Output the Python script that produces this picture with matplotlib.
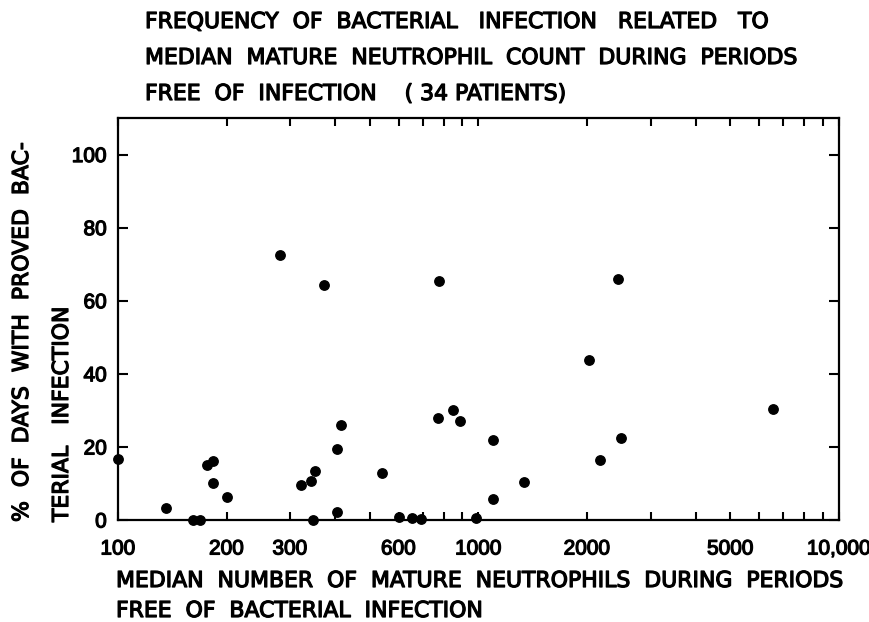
import matplotlib
matplotlib.use("Agg")
import matplotlib.pyplot as plt
import matplotlib.patheffects as pe
from matplotlib.ticker import FixedLocator, FixedFormatter, NullFormatter

# Data: median mature neutrophil count vs % days with proved bacterial infection
neutrophils = [100, 136, 161, 169, 177, 184, 183, 201, 282, 322, 342, 348,
               353, 373, 406, 405, 415, 540, 603, 656, 691, 776, 773, 852,
               889, 984, 1094, 1094, 1340, 2023, 2434, 2168, 2490, 6563]
pct_days = [16.7, 3.4, 0.0, 0.0, 15.0, 16.2, 10.2, 6.4, 72.6, 9.5, 10.8, 0.0,
            13.4, 64.4, 19.4, 2.3, 26.1, 12.8, 0.9, 0.6, 0.3, 65.4, 27.8, 30.1,
            27.2, 0.5, 21.8, 5.7, 10.5, 43.9, 65.9, 16.3, 22.5, 30.3]

x_major_ticks = [100, 200, 300, 400, 500, 600, 700, 800, 900, 1000,
                 2000, 3000, 4000, 5000, 6000, 7000, 8000, 9000, 10000]
x_tick_labels = ["100", "200", "300", "", "", "600", "", "", "", "1000",
                 "2000", "", "", "5000", "", "", "", "", "10,000"]
y_ticks = [0, 20, 40, 60, 80, 100]
y_tick_labels = ["0", "20", "40", "60", "80", "100"]

title_lines = ["FREQUENCY  OF  BACTERIAL   INFECTION   RELATED   TO",
               "MEDIAN  MATURE  NEUTROPHIL  COUNT  DURING  PERIODS",
               "FREE  OF  INFECTION    ( 34 PATIENTS)"]
xlabel_lines = ["MEDIAN  NUMBER  OF  MATURE  NEUTROPHILS  DURING  PERIODS",
                "FREE  OF  BACTERIAL  INFECTION"]
ylabel_lines = ["%  OF  DAYS  WITH  PROVED  BAC-",
                "TERIAL   INFECTION"]

plt.rcParams['font.family'] = ['DejaVu Sans']
fig = plt.figure(figsize=(8.7, 6.22), dpi=100)
W, H = 870, 622
ax = fig.add_axes([118 / W, 1 - 520 / H, (839 - 118) / W, (520 - 118) / H])

ax.scatter(neutrophils, pct_days, s=46, color="black", zorder=3, clip_on=False)
ax.set_xscale("log")
ax.set_xlim(100, 10000)
ax.set_ylim(0, 110)

ax.xaxis.set_major_locator(FixedLocator(x_major_ticks))
ax.xaxis.set_major_formatter(FixedFormatter(x_tick_labels))
ax.xaxis.set_minor_locator(FixedLocator([]))
ax.xaxis.set_minor_formatter(NullFormatter())
ax.set_yticks(y_ticks)
ax.set_yticklabels(y_tick_labels)

for s in ax.spines.values():
    s.set_linewidth(1.6)
ax.tick_params(axis="both", which="major", direction="in", length=6, width=1.5,
               top=True, right=True, labelsize=15, pad=8)
ax.tick_params(axis="x", pad=14)
ax.tick_params(axis="y", length=7)
thick = [pe.withStroke(linewidth=0.9, foreground="black")]
for lab in ax.get_xticklabels() + ax.get_yticklabels():
    lab.set_fontfamily("Liberation Sans")
    lab.set_path_effects(thick)

tkw = dict(fontsize=15.8, path_effects=thick)
for i, t in enumerate(title_lines):
    fig.text(145 / W, 1 - (22 + i * 36) / H, t, ha="left", va="center", **tkw)
for i, t in enumerate(xlabel_lines):
    fig.text(116 / W, 1 - (581 + i * 30) / H, t, ha="left", va="center", **tkw)
fig.text(22 / W, 1 - 522 / H, ylabel_lines[0], rotation=90, ha="center",
         va="bottom", **tkw)
fig.text(62 / W, 1 - 522 / H, ylabel_lines[1], rotation=90, ha="center",
         va="bottom", **tkw)

fig.savefig("out.png", dpi=100)
